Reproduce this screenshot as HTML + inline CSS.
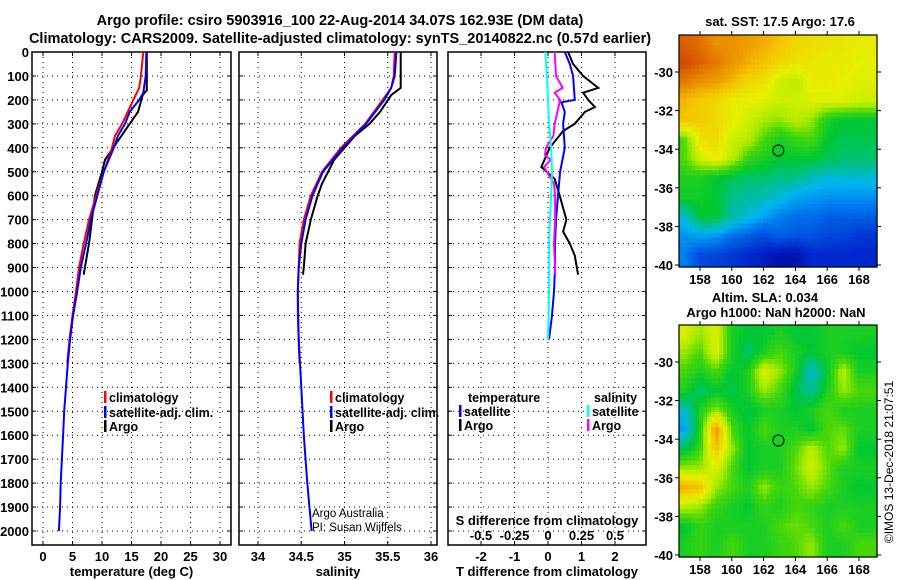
<!DOCTYPE html>
<html><head><meta charset="utf-8"><style>
html,body{margin:0;padding:0;background:#fff;}
svg{display:block;font-family:"Liberation Sans",Arial,sans-serif;font-weight:bold;}
</style></head><body>
<svg id="fig" width="900" height="580" viewBox="0 0 900 580" xmlns="http://www.w3.org/2000/svg">
<text x="340" y="25" text-anchor="middle" font-size="14.5">Argo profile: csiro 5903916_100 22-Aug-2014 34.07S 162.93E (DM data)</text>
<text x="340" y="43" text-anchor="middle" font-size="14.5">Climatology: CARS2009. Satellite-adjusted climatology: synTS_20140822.nc (0.57d earlier)</text>
<text x="780" y="26" text-anchor="middle" font-size="13">sat. SST: 17.5 Argo: 17.6</text>
<text x="765" y="302" text-anchor="middle" font-size="13">Altim. SLA: 0.034</text>
<text x="776" y="317" text-anchor="middle" font-size="13">Argo h1000: NaN h2000: NaN</text>
<text transform="translate(893,462) rotate(-90)" text-anchor="middle" font-size="12" font-weight="normal">©IMOS 13-Dec-2018 21:07:51</text>
<g id="g"></g>
</svg>
<script>
// ---- profile data (depth in m) ----
var tArgoDepth=[0,50,100,160,180,250,300,400,450,500,600,700,800,900,930];
var tArgoVal=[17.6,17.6,17.6,17.6,16.9,16.1,14.7,11.9,10.5,10.0,8.8,8.3,7.8,7.1,6.9];
var tClimDepth=[0,100,150,200,300,350,400,500,600,700,800,900,1000,1100,1200,1300];
var tClimVal=[17.0,16.6,16.3,15.3,13.4,12.2,11.7,10.3,9.0,7.8,6.9,6.1,5.6,5.0,4.5,4.1];
var tSatDepth=[0,100,170,200,250,300,350,400,500,600,700,800,900,1000,1100,1200,1300,1400,1500,1600,1700,1800,1900,2000];
var tSatVal=[17.5,17.4,17.0,16.3,14.7,13.9,12.7,12.0,10.3,9.2,8.1,7.3,6.4,5.8,5.1,4.6,4.2,3.9,3.6,3.4,3.2,3.0,2.9,2.7];
var sArgoDepth=[0,150,180,250,300,350,400,450,500,550,600,700,800,900,930];
var sArgoVal=[35.65,35.65,35.54,35.41,35.29,35.12,35.0,34.88,34.81,34.74,34.69,34.61,34.55,34.53,34.52];
var sClimDepth=[0,100,150,200,300,400,500,600,700,800,900,1000,1100,1200,1300];
var sClimVal=[35.58,35.57,35.54,35.44,35.24,34.96,34.74,34.61,34.53,34.48,34.47,34.46,34.46,34.47,34.48];
var sSatDepth=[0,100,150,200,300,400,500,600,700,800,900,1000,1100,1200,1400,1600,1800,2000];
var sSatVal=[35.6,35.58,35.54,35.46,35.25,34.98,34.75,34.63,34.55,34.5,34.47,34.46,34.465,34.47,34.5,34.53,34.57,34.62];
var dTArgoDepth=[0,50,100,150,170,200,230,250,300,330,400,480,530,600,700,750,800,850,930];
var dTArgoVal=[0.6,0.75,1.05,1.5,1.05,1.2,1.4,1.1,0.8,0.45,0.05,-0.2,0.2,0.35,0.55,0.45,0.65,0.8,0.9];
var dTSatDepth=[0,50,100,200,210,250,300,400,500,600,700,800,900,1000,1100,1200];
var dTSatVal=[0.5,0.65,0.75,0.8,0.4,0.5,0.45,0.5,0.36,0.3,0.24,0.21,0.21,0.18,0.12,0.03];
var dSArgoDepth=[0,100,150,170,200,250,300,350,400,430,450,480,500,550,600,700,800,900,930];
var dSArgoVal=[0.05,0.06,0.11,0.05,0.09,0.07,0.05,0.04,-0.015,-0.023,0.02,-0.03,-0.008,0.045,0.053,0.053,0.045,0.053,0.053];
var dSSatDepth=[0,100,200,300,400,500,600,700,800,900,1000,1200];
var dSSatVal=[-0.02,-0.008,0,0.008,0.023,0.03,0.023,0.015,0.008,0.008,0.008,0];
// ---- ticks ----
var depthTicks=[0,100,200,300,400,500,600,700,800,900,1000,1100,1200,1300,1400,1500,1600,1700,1800,1900,2000];
var tTicks=[0,5,10,15,20,25,30];
var sTicks=[34,34.5,35,35.5,36];
var dTTicks=[-2,-1,0,1,2];
var dSTicks=["-0.5","-0.25","0","0.25","0.5"];
var lonTicks=[158,160,162,164,166,168];
var latTicks=[-30,-32,-34,-36,-38,-40];
// ---- map grids (rows lat -28.5..-39.5, cols lon 157..168), normalised colour values ----
var sstGrid=[
[0.88,0.86,0.8,0.8,0.78,0.76,0.72,0.68,0.67,0.66,0.65,0.64],
[0.92,0.88,0.84,0.8,0.76,0.72,0.68,0.66,0.65,0.64,0.64,0.63],
[0.84,0.8,0.78,0.74,0.68,0.66,0.6,0.58,0.64,0.64,0.63,0.62],
[0.74,0.7,0.68,0.64,0.63,0.62,0.6,0.6,0.62,0.62,0.62,0.6],
[0.72,0.7,0.68,0.64,0.6,0.56,0.54,0.58,0.55,0.45,0.42,0.42],
[0.5,0.66,0.68,0.6,0.58,0.5,0.45,0.48,0.5,0.42,0.4,0.4],
[0.5,0.6,0.64,0.58,0.48,0.45,0.42,0.42,0.42,0.4,0.38,0.38],
[0.45,0.45,0.42,0.4,0.38,0.38,0.36,0.36,0.32,0.3,0.3,0.3],
[0.44,0.44,0.42,0.36,0.34,0.33,0.3,0.26,0.25,0.24,0.24,0.24],
[0.3,0.42,0.42,0.34,0.3,0.26,0.22,0.2,0.2,0.18,0.18,0.18],
[0.24,0.26,0.25,0.2,0.18,0.15,0.18,0.16,0.16,0.14,0.14,0.12],
[0.22,0.15,0.14,0.12,0.1,0.08,0.05,0.05,0.1,0.1,0.1,0.1]];
var slaGrid=[
[0.62,0.55,0.62,0.45,0.42,0.42,0.45,0.42,0.42,0.45,0.45,0.45],
[0.55,0.5,0.62,0.45,0.38,0.45,0.5,0.45,0.42,0.45,0.45,0.42],
[0.5,0.45,0.5,0.42,0.45,0.62,0.55,0.45,0.3,0.42,0.58,0.45],
[0.45,0.38,0.42,0.4,0.45,0.55,0.5,0.4,0.35,0.45,0.55,0.5],
[0.3,0.45,0.55,0.45,0.4,0.45,0.45,0.42,0.45,0.5,0.45,0.45],
[0.25,0.45,0.8,0.5,0.42,0.5,0.45,0.45,0.42,0.5,0.52,0.45],
[0.4,0.48,0.72,0.55,0.42,0.45,0.45,0.5,0.58,0.5,0.55,0.42],
[0.55,0.55,0.62,0.5,0.42,0.45,0.45,0.52,0.6,0.52,0.45,0.45],
[0.75,0.72,0.55,0.5,0.45,0.55,0.48,0.5,0.55,0.5,0.45,0.42],
[0.58,0.55,0.48,0.45,0.42,0.48,0.45,0.5,0.48,0.45,0.45,0.45],
[0.42,0.48,0.45,0.45,0.45,0.45,0.5,0.52,0.5,0.45,0.5,0.45],
[0.45,0.48,0.45,0.5,0.45,0.45,0.48,0.5,0.55,0.45,0.45,0.5]];
var floatLon=162.93, floatLat=-34.07;

var NS="http://www.w3.org/2000/svg", G=document.getElementById('g');
function mk(tag,attrs,parent){var e=document.createElementNS(NS,tag);for(var k in attrs)e.setAttribute(k,attrs[k]);(parent||G).appendChild(e);return e;}
function txt(x,y,s,size,anchor,parent){var t=mk('text',{x:x,y:y,'font-size':size||13,'text-anchor':anchor||'middle'},parent);t.textContent=s;return t;}

var TOP=52,BOT=545;
function yD(d){return TOP+d*0.2395;}
function lin(v0,p0,v1,p1){return function(v){return p0+(v-v0)*(p1-p0)/(v1-v0);};}
var panels=[
 {name:'temperature-panel',x0:32,x1:231,f:lin(0,43,30,220),ticks:tTicks,lab:tTicks.map(String),title:'temperature (deg C)'},
 {name:'salinity-panel',x0:239,x1:437,f:lin(34,258,36,431),ticks:sTicks,lab:sTicks.map(String),title:'salinity'},
 {name:'difference-panel',x0:448,x1:646,f:lin(0,548,2,615),ticks:dTTicks,lab:dTTicks.map(String),title:'T difference from climatology'}];

panels.forEach(function(p,i){
  var g=mk('g',{});
  
  
  depthTicks.forEach(function(d){var y=yD(d);
    mk('line',{x1:p.x0,x2:p.x1,y1:y,y2:y,stroke:'#000','stroke-width':1,'stroke-dasharray':'1,4'},g);
    mk('line',{x1:p.x0,x2:p.x0+4,y1:y,y2:y,stroke:'#000'},g);
    mk('line',{x1:p.x1-4,x2:p.x1,y1:y,y2:y,stroke:'#000'},g);
    if(i==0){var t=txt(29,y+5,String(d),13,'end',g);
      
      }
  });
  p.ticks.forEach(function(v,k){var x=p.f(v);
    mk('line',{x1:x,x2:x,y1:TOP,y2:BOT,stroke:'#000','stroke-dasharray':'1,4'},g);
    mk('line',{x1:x,x2:x,y1:BOT-4,y2:BOT,stroke:'#000'},g);
    mk('line',{x1:x,x2:x,y1:TOP,y2:TOP+4,stroke:'#000'},g);
    var t=txt(x,561,p.lab[k],13,'middle',g);
    
    
  });
  mk('rect',{x:p.x0,y:TOP,width:p.x1-p.x0,height:BOT-TOP,fill:'none',stroke:'#000','stroke-width':1.5},g);
  var tt=txt((p.x0+p.x1)/2,576,p.title,13,'middle',g);
  
  
});
function line(depths,vals,f,color,name){
  var pts=depths.map(function(d,k){return f(vals[k]).toFixed(1)+','+yD(d).toFixed(1);}).join(' ');
  var l=mk('polyline',{points:pts,fill:'none',stroke:color,'stroke-width':2});
  
  
}
var fT=panels[0].f,fS=panels[1].f,fD=panels[2].f,fDS=function(v){return fD(v*4);};
line(tArgoDepth,tArgoVal,fT,'#000','temp-argo-line');
line(tClimDepth,tClimVal,fT,'#f00','temp-climatology-line');
line(tSatDepth,tSatVal,fT,'#00f','temp-satellite-line');
line(sArgoDepth,sArgoVal,fS,'#000','sal-argo-line');
line(sClimDepth,sClimVal,fS,'#f00','sal-climatology-line');
line(sSatDepth,sSatVal,fS,'#00f','sal-satellite-line');
line(dTArgoDepth,dTArgoVal,fD,'#000','tdiff-argo-line');
line(dTSatDepth,dTSatVal,fD,'#00f','tdiff-satellite-line');
line(dSArgoDepth,dSArgoVal,fDS,'#f0f','sdiff-argo-line');
line(dSSatDepth,dSSatVal,fDS,'#0ff','sdiff-satellite-line');

// S difference labels
var sl=txt(547,525,'S difference from climatology',13,'middle');


dSTicks.forEach(function(s){var t=txt(fDS(parseFloat(s)),540,s,13,'middle');
  
  });

// legends
function legItem(x,y,color,label,name){
  var g=mk('g',{});
  
  
  mk('rect',{x:x,y:y-11,width:2.5,height:12,fill:color},g);
  txt(x+5,y,label,12.5,'start',g);
}
legItem(104,402,'#f00','climatology','legend-climatology');
legItem(104,417,'#00f','satellite-adj. clim.','legend-satellite-adj');
legItem(104,431,'#000','Argo','legend-argo');
legItem(330,402,'#f00','climatology','legend-sal-climatology');
legItem(330,417,'#00f','satellite-adj. clim.','legend-sal-satellite-adj');
legItem(330,431,'#000','Argo','legend-sal-argo');
var lt=txt(468,402,'temperature',12.5,'start');
var ls=txt(594,402,'salinity',12.5,'start');
legItem(459,416,'#00f','satellite','legend-t-satellite');
legItem(459,430,'#000','Argo','legend-t-argo');
legItem(587,416,'#0ff','satellite','legend-s-satellite');
legItem(587,430,'#f0f','Argo','legend-s-argo');
var c1=txt(312,517,'Argo Australia',11.5,'start');c1.setAttribute('font-weight','normal');
var c2=txt(312,531,'PI: Susan Wijffels',11.5,'start');c2.setAttribute('font-weight','normal');

// ---- maps ----
var stops=[[0,[0,0,140]],[0.1,[0,40,205]],[0.2,[0,110,235]],[0.28,[0,180,240]],[0.35,[0,190,150]],[0.42,[0,200,50]],[0.5,[70,215,10]],[0.56,[170,235,0]],[0.63,[230,240,0]],[0.72,[245,195,0]],[0.8,[235,145,0]],[0.9,[215,85,0]],[1,[180,20,0]]];
function cmap(v){v=Math.max(0,Math.min(1,v));for(var i=1;i<stops.length;i++){if(v<=stops[i][0]){var a=stops[i-1],b=stops[i],t=(v-a[0])/(b[0]-a[0]);
  return 'rgb('+[0,1,2].map(function(c){return Math.round(a[1][c]+(b[1][c]-a[1][c])*t);}).join(',')+')';}}return 'rgb(180,20,0)';}
function drawMap(name,grid,x0,x1,y0,y1,latY30,latY40){
  var g=mk('g',{});
  
  
  var fx=lin(158,700,168,859), fy=lin(-30,latY30,-40,latY40);
  var lonL=156.7,lonR=169.25,latT=-28.1,latB=-40.1, sub=4;
  var R=grid.length,C=grid[0].length;
  function val(lon,lat){var c=lon-157, r=-28.5-lat; c=Math.max(0,Math.min(C-1,c)); r=Math.max(0,Math.min(R-1,r));
    var c0=Math.floor(c),r0=Math.floor(r),c1=Math.min(C-1,c0+1),r1=Math.min(R-1,r0+1),tx=c-c0,ty=r-r0;
    return (grid[r0][c0]*(1-tx)+grid[r0][c1]*tx)*(1-ty)+(grid[r1][c0]*(1-tx)+grid[r1][c1]*tx)*ty;}
  var step=1/sub;
  for(var lat=latT;lat>latB-1e-6;lat-=step){for(var lon=lonL;lon<lonR;lon+=step){
    var xa=Math.max(x0,fx(lon)),xb=Math.min(x1,fx(lon+step)),ya=Math.max(y0,fy(lat)),yb=Math.min(y1,fy(lat-step));
    if(xb<=xa||yb<=ya)continue;
    mk('rect',{x:xa.toFixed(1),y:ya.toFixed(1),width:(xb-xa+0.6).toFixed(1),height:(yb-ya+0.6).toFixed(1),fill:cmap(val(lon+step/2,lat-step/2))},g);
  }}
  mk('rect',{x:x0,y:y0,width:x1-x0,height:y1-y0,fill:'none',stroke:'#000','stroke-width':1.2},g);
  lonTicks.forEach(function(l){var x=fx(l);mk('line',{x1:x,x2:x,y1:y0-4,y2:y0,stroke:'#000'},g);mk('line',{x1:x,x2:x,y1:y1,y2:y1+4,stroke:'#000'},g);
    var t=txt(x,y1+17,String(l),13,'middle',g);});
  latTicks.forEach(function(l){var y=fy(l);mk('line',{x1:x0-4,x2:x0,y1:y,y2:y,stroke:'#000'},g);mk('line',{x1:x1,x2:x1+4,y1:y,y2:y,stroke:'#000'},g);
    var t=txt(673,y+5,String(l),13,'end',g);});
  var c=mk('circle',{cx:fx(floatLon),cy:fy(floatLat),r:5.5,fill:'none',stroke:'#000','stroke-width':1},g);
  
  
}
drawMap('sst-map',sstGrid,679,877,35,267,72,265);
drawMap('sla-map',slaGrid,679,877,325,557,362,555);
</script>
</body></html>
